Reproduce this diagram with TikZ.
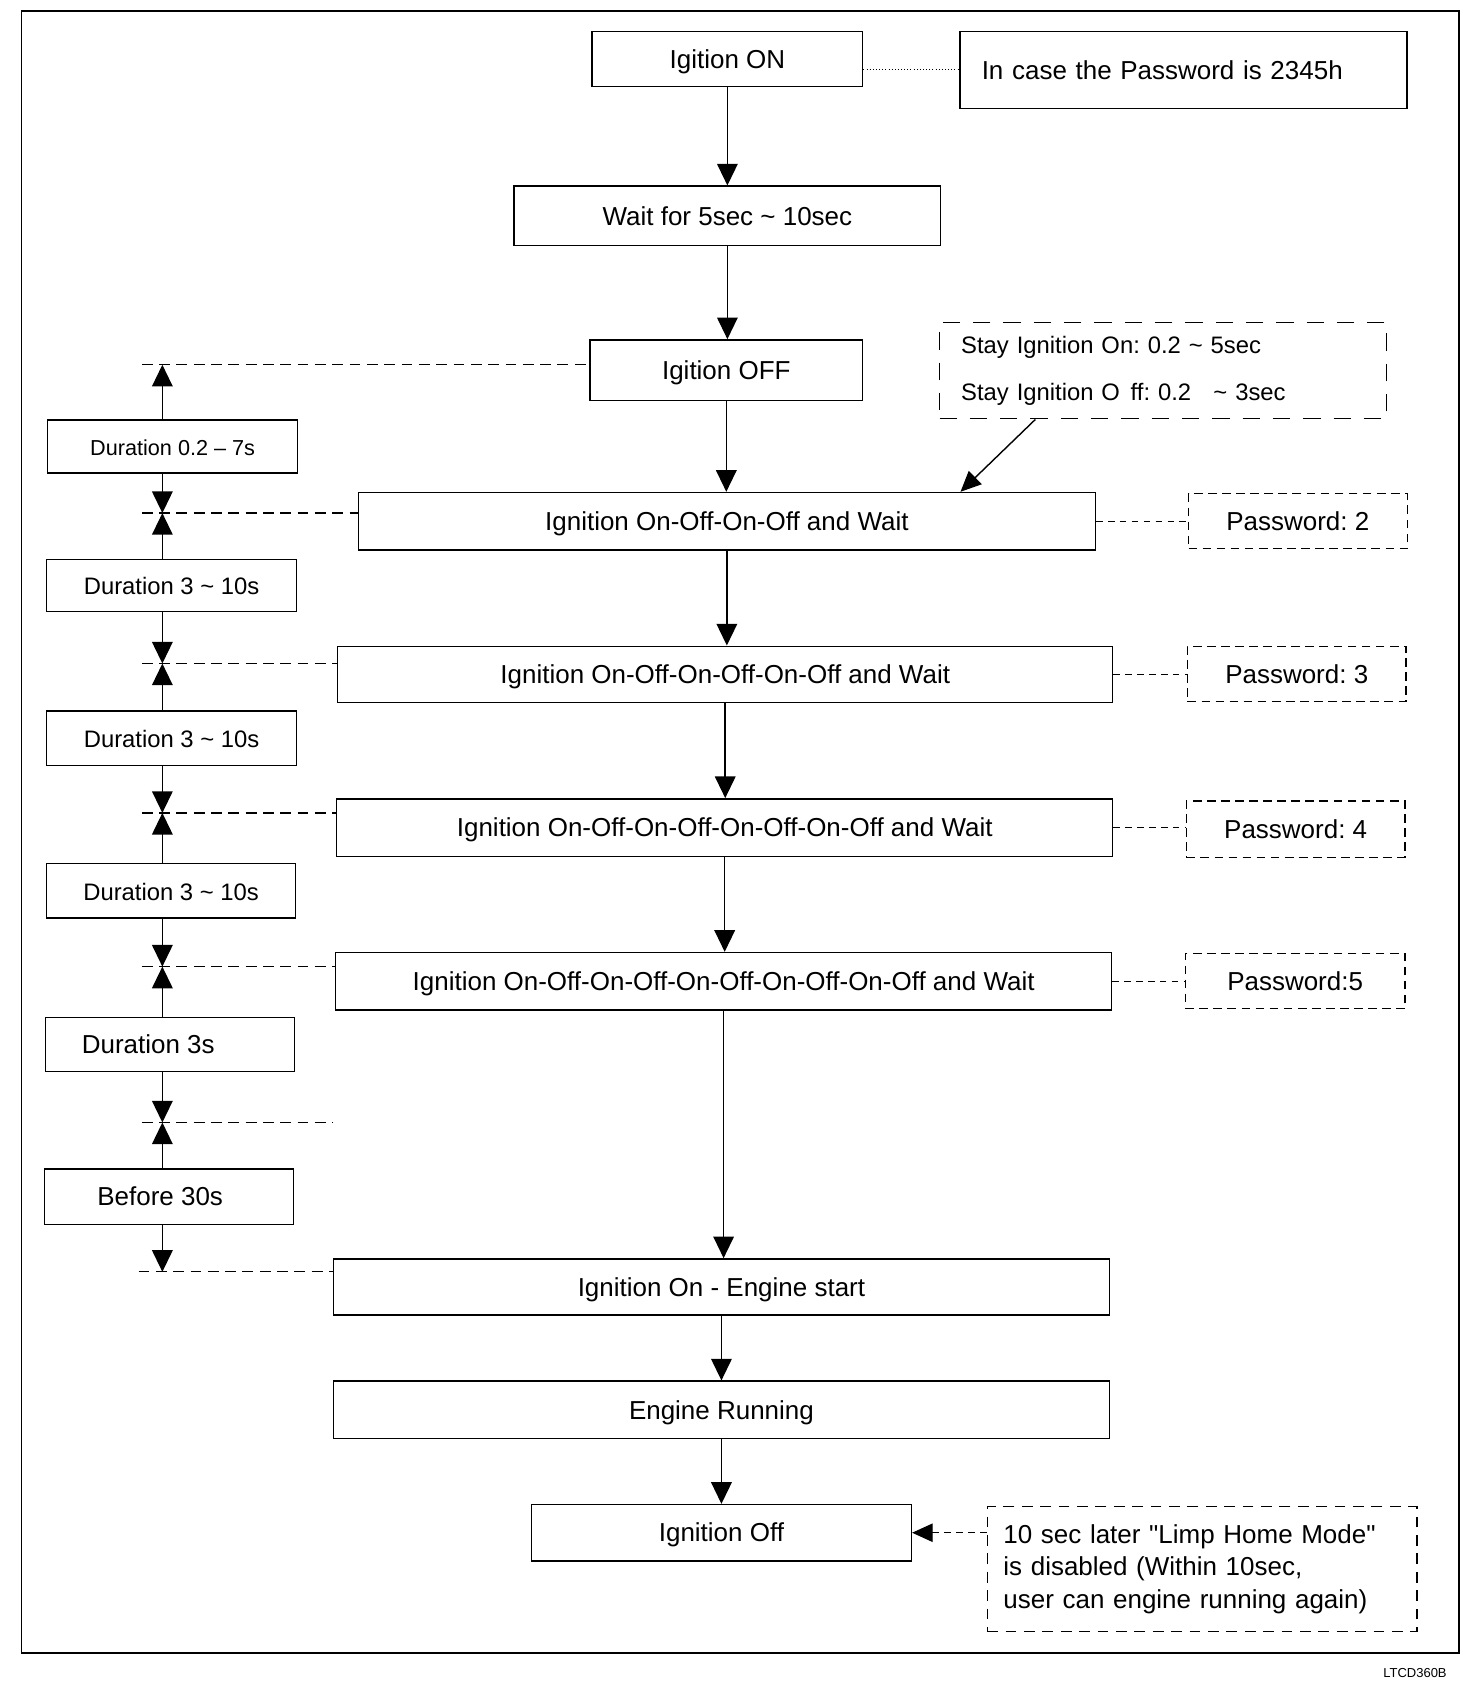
\documentclass[tikz,border=0pt]{standalone}
\usepackage{fontspec}
\setmainfont{Liberation Sans}[Ligatures=TeXOff]
\usetikzlibrary{arrows.meta,calc}
\frenchspacing
\tikzset{
  frame/.style={draw, line width=1.3pt, inner sep=0pt, font=\fontsize{24}{29}\selectfont},
  box/.style={frame, text height=17pt, text depth=0pt},
  dbox/.style={box, line width=1.1pt, dash pattern=on 8pt off 5pt},
  sbox/.style={frame, line width=1.1pt, dash pattern=on 16pt off 12pt},
  lbox/.style={frame, line width=1.1pt, dash pattern=on 10pt off 7pt},
  arr/.style={line width=1.4pt, -{Triangle[width=19pt,length=20pt]}},
  conn/.style={line width=1.1pt, dash pattern=on 10pt off 6pt},
  pconn/.style={line width=1.1pt, dash pattern=on 6pt off 5pt},
  small/.style={font=\fontsize{20}{24}\selectfont},
  mid/.style={font=\fontsize{22}{26}\selectfont}
}
\begin{document}
\begin{tikzpicture}[x=1pt,y=-1pt]
\useasboundingbox (0,0) rectangle (1360,1565);
\draw[line width=1.5pt] (20,10) rectangle (1348,1527);

% center column
\node[box, minimum width=250, minimum height=51] (b1) at (672,54.5) {Igition ON};
\node[box, minimum width=394, minimum height=55] (b2) at (672,199.5) {Wait for 5sec \textasciitilde{} 10sec};
\node[box, minimum width=252, minimum height=56] (b3) at (671,342) {Igition OFF};
\node[box, minimum width=681, minimum height=53] (b4) at (671.5,481.5) {Ignition On-Off-On-Off and Wait};
\node[box, minimum width=716, minimum height=52] (b5) at (670,623) {Ignition On-Off-On-Off-On-Off and Wait};
\node[box, minimum width=717, minimum height=53] (b6) at (669.5,764.5) {Ignition On-Off-On-Off-On-Off-On-Off and Wait};
\node[box, minimum width=717, minimum height=53] (b7) at (668.5,906.5) {Ignition On-Off-On-Off-On-Off-On-Off-On-Off and Wait};
\node[box, minimum width=717, minimum height=52] (b8) at (666.5,1189) {Ignition On - Engine start};
\node[box, minimum width=717, minimum height=53] (b9) at (666.5,1302.5) {Engine Running};
\node[box, minimum width=351, minimum height=52] (b10) at (666.5,1416) {Ignition Off};

\foreach \a/\b in {b1/b2,b2/b3,b3/b4,b4/b5,b5/b6,b6/b7,b7/b8,b8/b9,b9/b10}
  \draw[arr] (\a.south) -- (\a.south |- \b.north);

% right column
\node[frame, minimum width=413, minimum height=71, text width=373, align=left, inner xsep=20pt] (pw0) at (1093.5,64.5) {In case the Password is 2345h};
\node[sbox, minimum width=413, minimum height=89, text width=373, align=left, inner xsep=20pt, font=\fontsize{22}{44}\selectfont] (stay) at (1074.5,342.5)
  {Stay Ignition On: 0.2 \textasciitilde{} 5sec\\Stay Ignition O\hspace{0.45em}ff: 0.2\hspace{0.6em} \textasciitilde{} 3sec};
\node[dbox, minimum width=202, minimum height=51] (pw2) at (1199,481.5) {Password: 2};
\node[dbox, minimum width=202, minimum height=51] (pw3) at (1198,622.5) {Password: 3};
\node[dbox, minimum width=202, minimum height=52] (pw4) at (1197,766) {Password: 4};
\node[dbox, minimum width=203, minimum height=51] (pw5) at (1196.5,906.5) {Password:5};
\node[lbox, minimum width=397, minimum height=115, text width=367, align=left, inner xsep=15pt, font=\fontsize{24}{30}\selectfont] (limp) at (1110.5,1449.5)
  {10 sec later "Limp Home Mode"\\is disabled (Within 10sec,\\user can engine running again)};

\draw[line width=0.9pt, dotted] (b1.east |- pw0.center) -- (pw0.west);
\draw[pconn] (b4.east) -- (b4.east -| pw2.west);
\draw[pconn] (b5.east) -- (b5.east -| pw3.west);
\draw[pconn] (b6.east) -- (b6.east -| pw4.west);
\draw[pconn] (b7.east) -- (b7.east -| pw5.west);
\draw[line width=1.3pt, -{Triangle[width=17pt,length=19pt]}] ([xshift=89pt]stay.south west) -- ([xshift=557pt]b4.north west);
\draw[pconn, -{Triangle[width=17pt,length=19pt]}] (b10.east -| limp.west) -- (b10.east);

% left column
\node[box, small, minimum width=231, minimum height=49] (d1) at (159.5,412.5) {Duration 0.2 – 7s};
\node[box, mid, minimum width=231, minimum height=48] (d2) at (158.5,541) {Duration 3 \textasciitilde{} 10s};
\node[box, mid, minimum width=231, minimum height=50] (d3) at (158.5,682) {Duration 3 \textasciitilde{} 10s};
\node[box, mid, minimum width=230, minimum height=50] (d4) at (158,823) {Duration 3 \textasciitilde{} 10s};
\node[box, minimum width=230, minimum height=50] (d5) at (157,965) {Duration 3s\hspace*{40pt}};
\node[box, minimum width=230, minimum height=51] (d6) at (156,1105.5) {Before 30s\hspace*{16pt}};

\coordinate (ax) at (150,0);
\coordinate (t3) at (131,337);
\coordinate (t4) at (131,474);
\coordinate (t5) at (131,613);
\coordinate (t6) at (131,751);
\coordinate (t7) at (131,893);
\coordinate (t8) at (131,1037);
\coordinate (t8e) at (308,1037);
\coordinate (t9) at (128,1175);

\draw[conn] (t3) -- (t3 -| b3.west);
\draw[conn] (t4) -- (t4 -| b4.west);
\draw[conn] (t5) -- (t5 -| b5.west);
\draw[conn] (t6) -- (t6 -| b6.west);
\draw[conn] (t7) -- (t7 -| b7.west);
\draw[conn] (t8) -- (t8e);
\draw[conn] (t9) -- (t9 -| b8.west);

\draw[arr] (ax |- d1.north) -- (ax |- t3);
\draw[arr] (ax |- d1.south) -- (ax |- t4);
\draw[arr] (ax |- d2.north) -- (ax |- t4);
\draw[arr] (ax |- d2.south) -- (ax |- t5);
\draw[arr] (ax |- d3.north) -- (ax |- t5);
\draw[arr] (ax |- d3.south) -- (ax |- t6);
\draw[arr] (ax |- d4.north) -- (ax |- t6);
\draw[arr] (ax |- d4.south) -- (ax |- t7);
\draw[arr] (ax |- d5.north) -- (ax |- t7);
\draw[arr] (ax |- d5.south) -- (ax |- t8);
\draw[arr] (ax |- d6.north) -- (ax |- t8);
\draw[arr] (ax |- d6.south) -- (ax |- t9);

\node[anchor=base east, font=\fontsize{12}{14}\selectfont] (code) at (1340,1550) {LTCD360B};
\end{tikzpicture}
\end{document}
